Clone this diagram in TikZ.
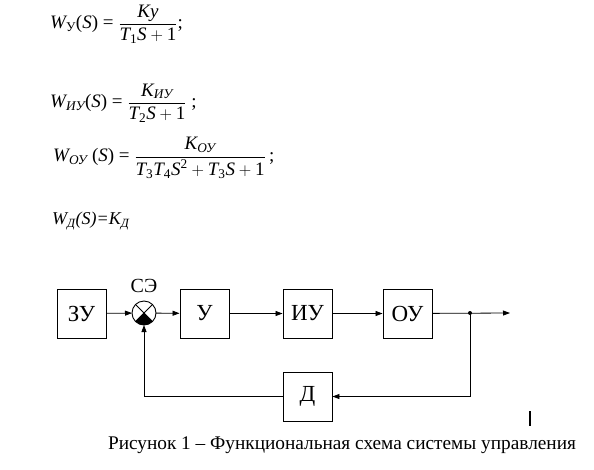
\documentclass[tikz,border=0pt]{standalone}
\usepackage{amsmath}
\usepackage{fontspec}
\setmainfont{Liberation Serif}
\usetikzlibrary{arrows.meta,positioning,calc}
\newcommand{\iv}[1]{\text{\itshape #1}}
\tikzset{
  blk/.style={draw,line width=0.9pt,minimum width=49pt,minimum height=49pt,
              inner sep=0pt,font=\fontsize{23}{26}\selectfont},
  summ/.style={draw,circle,line width=0.9pt,minimum size=24pt,inner sep=0pt,outer sep=0pt},
  sig/.style={-{Triangle[length=7pt,width=5pt]},line width=0.8pt},
  frm/.style={anchor=west,inner sep=0pt,font=\fontsize{19}{22}\selectfont},
  capt/.style={font=\fontsize{19.3}{22}\selectfont},
}
\begin{document}
\begin{tikzpicture}[x=1pt,y=-1pt]
  \useasboundingbox (0,0) rectangle (594,469);
  \node[frm] (w1) at (50,24) {\iv{W}$_{\text{У}}$(\iv{S}) = $\dfrac{\iv{Ky}}{\iv{T}_{\text{1}}\iv{S}+\text{1}}$;};
  \node[frm] (w2) at (50,103) {\iv{W}$_{\iv{ИУ}}$(\iv{S}) = $\dfrac{\iv{K}_{\iv{ИУ}}}{\iv{T}_{\text{2}}\iv{S}+\text{1}}$\ ;};
  \node[frm] (w3) at (53,158) {\iv{W}$_{\iv{ОУ}}$ (\iv{S}) = $\dfrac{\iv{K}_{\iv{ОУ}}}{\iv{T}_{\text{3}}\iv{T}_{\text{4}}\iv{S}^{\text{2}}+\iv{T}_{\text{3}}\iv{S}+\text{1}}$\,;};
  \node[frm,font=\fontsize{18}{21}\selectfont\itshape] (w4) at (52,221) {W$_{\iv{Д}}$(S)=K$_{\iv{Д}}$};
  \node[blk] (zu) at (81.5,313.5) {ЗУ};
  \node[summ] (se) at (144,313) {};
  \node[blk] (u) at (204.5,313.5) {У};
  \node[blk] (iu) at (307.5,313.5) {ИУ};
  \node[blk] (ou) at (407.5,313.5) {ОУ};
  \node[blk] (d) at (307.5,396.5) {Д};
  \node[font=\fontsize{20}{22}\selectfont] (sel) at (144,286) {СЭ};
  \coordinate (br) at (470,313);
  \coordinate (out) at (510,313);
  \fill (se.center) -- (se.south west) arc[start angle=225,end angle=315,radius=12pt] -- cycle;
  \draw[line width=0.8pt] (se.north west) -- (se.south east) (se.north east) -- (se.south west);
  \draw[sig] (zu) -- (se);
  \draw[sig] (se) -- (u);
  \draw[sig] (u) -- (iu);
  \draw[sig] (iu) -- (ou);
  \draw[sig] (ou) -- (out);
  \fill (br) circle (2pt);
  \draw[sig] (br) |- (d);
  \draw[sig] (d) -| (se);
  \draw[line width=1.5pt] (530,411) -- (530,426);
  \node[capt] (cap1) at (342,445) {Рисунок 1 – Функциональная схема системы управления};
\end{tikzpicture}
\end{document}
